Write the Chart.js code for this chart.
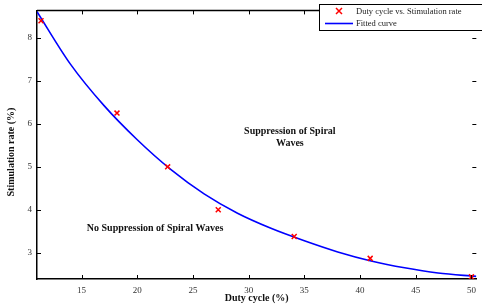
<!DOCTYPE html>
<html>
<head>
<meta charset="utf-8">
<script src="https://cdn.jsdelivr.net/npm/chart.js@4/dist/chart.umd.min.js"></script>
<style>
html,body{margin:0;padding:0;background:#fff;overflow:hidden;}
canvas{display:block;}
</style>
</head>
<body>
<canvas id="c" width="482" height="307"></canvas>
<script>
// Measured data: duty cycle (%) vs stimulation rate (%)
const dutyCycle = [11.36, 18.18, 22.73, 27.27, 34.09, 40.91, 50.0];
const stimRate  = [8.40, 6.25, 5.00, 4.00, 3.38, 2.87, 2.44];
// Fitted curve
const curveX = [11, 14, 17, 20, 23, 26, 29, 32, 35, 38, 41, 44, 47, 50.44];
const curveY = [8.61, 7.39, 6.43, 5.63, 4.94, 4.37, 3.92, 3.57, 3.28, 3.02, 2.81, 2.65, 2.53, 2.45];
// Tick labels
const xTicks = [15, 20, 25, 30, 35, 40, 45, 50];
const yTicks = [3, 4, 5, 6, 7, 8];
const xTitle = 'Duty cycle (%)';
const yTitle = 'Stimulation rate (%)';
const seriesNames = ['Duty cycle vs. Stimulation rate', 'Fitted curve'];
const annotations = [
  {lines: ['Suppression of Spiral', 'Waves'], x: 33.7, y: 5.82},
  {lines: ['No Suppression of Spiral Waves'], x: 21.6, y: 3.57}
];

const serif = '"Liberation Serif", "DejaVu Serif", serif';

const extras = {
  id: 'extras',
  afterDraw(chart) {
    const ctx = chart.ctx;
    const a = chart.chartArea;
    const xs = chart.scales.x, ys = chart.scales.y;
    ctx.save();
    ctx.strokeStyle = '#000';
    ctx.lineWidth = 1.5;
    // top border
    ctx.beginPath();
    ctx.moveTo(a.left, a.top); ctx.lineTo(a.right, a.top);
    ctx.stroke();
    // inward ticks
    ctx.lineWidth = 1;
    ctx.beginPath();
    xTicks.forEach(v => {
      const px = Math.round(xs.getPixelForValue(v)) + 0.5;
      ctx.moveTo(px, a.bottom); ctx.lineTo(px, a.bottom - 4);
      ctx.moveTo(px, a.top); ctx.lineTo(px, a.top + 4);
    });
    yTicks.forEach(v => {
      const py = Math.round(ys.getPixelForValue(v)) + 0.5;
      ctx.moveTo(a.left, py); ctx.lineTo(a.left + 4, py);
      ctx.moveTo(a.right, py); ctx.lineTo(a.right - 4, py);
    });
    ctx.stroke();

    // y title
    ctx.fillStyle = '#111';
    ctx.font = 'bold 10px ' + serif;
    ctx.textAlign = 'center';
    ctx.textBaseline = 'middle';
    ctx.save();
    ctx.translate(11, 152);
    ctx.rotate(-Math.PI / 2);
    ctx.fillText(yTitle, 0, 0);
    ctx.restore();

    // annotations
    ctx.font = 'bold 10px ' + serif;
    annotations.forEach(an => {
      const px = xs.getPixelForValue(an.x);
      const py = ys.getPixelForValue(an.y);
      an.lines.forEach((t, i) => ctx.fillText(t, px, py + i * 11.5));
    });

    // legend
    const lx = 319.5, ly = 4.5, lw = 170, lh = 26;
    ctx.fillStyle = '#fff';
    ctx.fillRect(lx, ly, lw, lh);
    ctx.strokeStyle = '#000';
    ctx.lineWidth = 1;
    ctx.strokeRect(lx, ly, lw, lh);
    const d0 = chart.data.datasets[0], d1 = chart.data.datasets[1];
    ctx.strokeStyle = d0.borderColor;
    ctx.lineWidth = d0.borderWidth;
    ctx.beginPath();
    ctx.moveTo(336, 8); ctx.lineTo(342, 14);
    ctx.moveTo(342, 8); ctx.lineTo(336, 14);
    ctx.stroke();
    ctx.strokeStyle = d1.borderColor;
    ctx.lineWidth = d1.borderWidth;
    ctx.beginPath();
    ctx.moveTo(325, 23.5); ctx.lineTo(353, 23.5);
    ctx.stroke();
    ctx.fillStyle = '#222';
    ctx.font = '8.5px ' + serif;
    ctx.textAlign = 'left';
    ctx.textBaseline = 'middle';
    ctx.fillText(seriesNames[0], 356, 12);
    ctx.fillText(seriesNames[1], 356, 24);
    ctx.restore();
  }
};

new Chart(document.getElementById('c'), {
  type: 'scatter',
  data: {
    datasets: [
      {
        label: seriesNames[0],
        data: dutyCycle.map((x, i) => ({x, y: stimRate[i]})),
        pointStyle: 'crossRot',
        pointRadius: 3.5,
        borderColor: '#ff0000',
        backgroundColor: '#ff0000',
        borderWidth: 1.5,
        showLine: false,
        order: 0
      },
      {
        label: seriesNames[1],
        data: curveX.map((x, i) => ({x, y: curveY[i]})),
        showLine: true,
        pointRadius: 0,
        borderColor: '#0000ff',
        borderWidth: 1.6,
        cubicInterpolationMode: 'monotone',
        fill: false,
        order: 1
      }
    ]
  },
  options: {
    responsive: false,
    animation: false,
    events: [],
    layout: {padding: {top: 4, left: 0, right: 0, bottom: 0}},
    plugins: {legend: {display: false}, tooltip: {enabled: false}},
    scales: {
      x: {
        type: 'linear',
        position: 'bottom',
        min: 11,
        max: 50.44,
        afterBuildTicks: s => { s.ticks = xTicks.map(v => ({value: v})); },
        afterFit: s => { s.height = 28; },
        grid: {display: false, drawTicks: false},
        border: {display: true, color: '#000', width: 1.5},
        ticks: {color: '#333', font: {family: serif, size: 9}, padding: 6, maxRotation: 0},
        title: {display: true, text: xTitle, color: '#111', font: {family: serif, size: 10, weight: 'bold'}, padding: {top: 0, bottom: 3}}
      },
      y: {
        type: 'linear',
        position: 'left',
        min: 2.39,
        max: 8.64,
        afterBuildTicks: s => { s.ticks = yTicks.map(v => ({value: v})); },
        afterFit: s => { s.width = 37; },
        grid: {display: false, drawTicks: false},
        border: {display: true, color: '#000', width: 1.5},
        ticks: {color: '#333', font: {family: serif, size: 9}, padding: 5}
      }
    }
  },
  plugins: [extras]
});
</script>
</body>
</html>
